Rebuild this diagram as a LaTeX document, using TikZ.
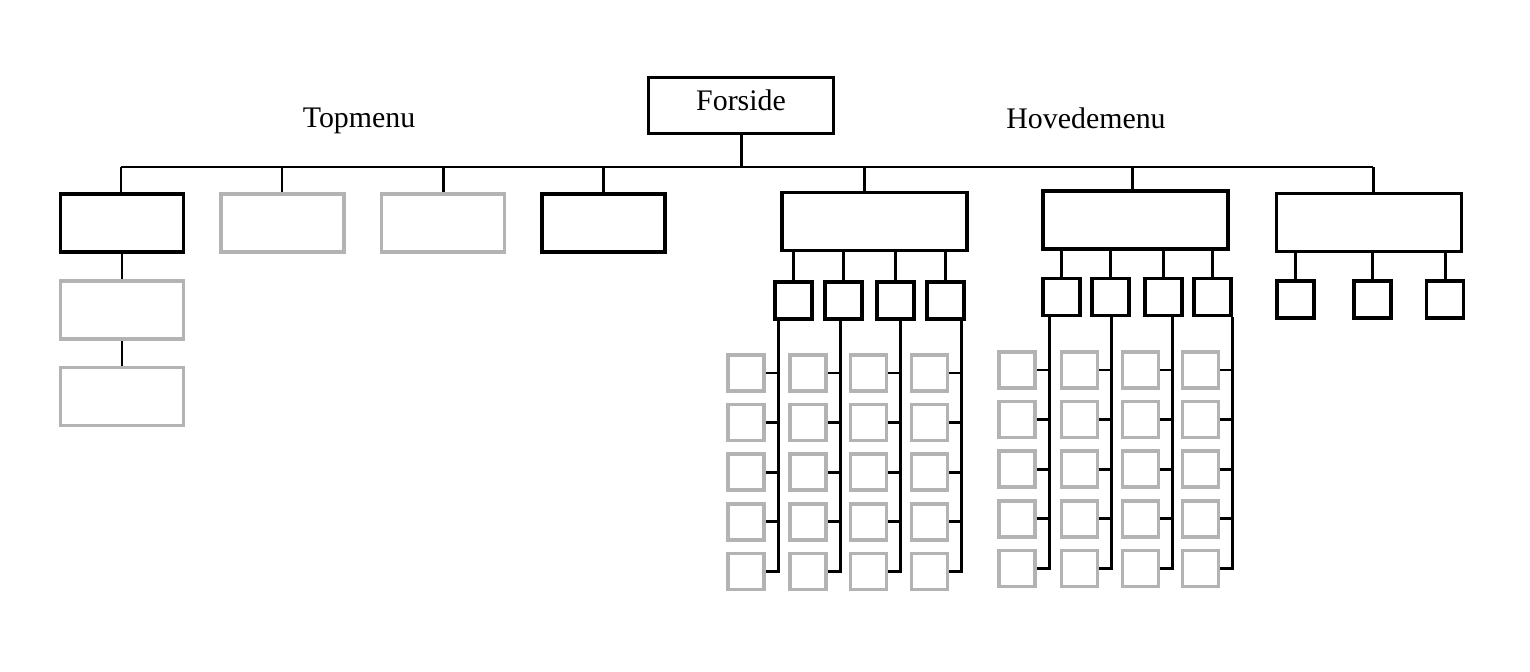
\documentclass[tikz,border=0pt]{standalone}
\usepackage{fontspec}
\setmainfont{Liberation Serif}
\usetikzlibrary{positioning}
\definecolor{boxgrey}{HTML}{B3B3B3}

\begin{document}
\begin{tikzpicture}[
    x=0.02cm, y=-0.02cm,
    page/.style={draw, line width=2pt, minimum width=2.46cm, minimum height=1.16cm, inner sep=0pt},
    widepage/.style={page, minimum width=3.7cm},
    greypage/.style={page, draw=boxgrey},
    subpage/.style={draw, line width=2pt, minimum size=0.74cm, inner sep=0pt},
    greysub/.style={subpage, draw=boxgrey, minimum size=0.72cm},
    link/.style={line width=1.7pt},
    title/.style={font=\fontsize{17}{20}\selectfont},
    every node/.style={align=center}
  ]
  \useasboundingbox (0,0) rectangle (1530,672);

  % Front page and menu titles
  \node[widepage, minimum height=1.12cm, title, text depth=6pt] (home) at (741,105.5) {Forside};
  \node[title] (topmenu) at (359,121) {Topmenu};
  \node[title] (mainmenu) at (1086,118) {Hovedemenu};

  % First level
  \node[page] (t1) at (122,223) {};
  \node[greypage] (t2) at (282.5,223) {};
  \node[greypage] (t3) at (443,223) {};
  \node[page] (t4) at (603.5,223) {};
  \node[widepage] (t5) at (874.5,221.5) {};
  \node[widepage] (t6) at (1135.5,220) {};
  \node[widepage] (t7) at (1369,222.5) {};

  % Bus from the front page
  \coordinate (bus) at (0,167);
  \draw[link] (home.south) -- (home.south |- bus);
  \foreach \i/\x in {1/121, 2/282, 3/443, 4/603, 5/864, 6/1132, 7/1373} {
    \coordinate (st\i) at (\x,0);
    \draw[link] (st\i |- t\i.north) -- (st\i |- bus);
  }
  \draw[link] (st1 |- bus) -- (st7 |- bus);

  % Topmenu pages
  \node[greypage] (t1a) at (122,310) {};
  \node[greypage] (t1b) at (122,396.5) {};
  \draw[link] (t1) -- (t1a);
  \draw[link] (t1a) -- (t1b);

  % Hovedemenu, first section
  \foreach \j/\x/\g/\l in {1/793.5/746/778, 2/843.5/808/840, 3/895.5/868.5/900, 4/945.5/929.5/961} {
    \node[subpage] (a\j) at (\x,300.5) {};
    \draw[link] (a\j.north |- t5.south) -- (a\j.north);
    \foreach \k in {1,...,5}
      \node[greysub] (a\j-\k) at (\g,{373+49.6*(\k-1)}) {};
    \coordinate (al\j) at (\l,0);
    \draw[link] (al\j |- a\j.south) -- (al\j |- a\j-5.east) -- (a\j-5.east);
    \foreach \k in {1,...,4}
      \draw[link] (a\j-\k.east) -- (a\j-\k.east -| al\j);
  }

  % Hovedemenu, second section
  \foreach \j/\x/\g/\l in {1/1061.5/1017/1049, 2/1110.5/1079.5/1111, 3/1163.5/1140.5/1172, 4/1212.5/1200.5/1232} {
    \node[subpage] (b\j) at (\x,297) {};
    \draw[link] (b\j.north |- t6.south) -- (b\j.north);
    \foreach \k in {1,...,5}
      \node[greysub] (b\j-\k) at (\g,{370+49.6*(\k-1)}) {};
    \coordinate (bl\j) at (\l,0);
    \draw[link] (bl\j |- b\j.south) -- (bl\j |- b\j-5.east) -- (b\j-5.east);
    \foreach \k in {1,...,4}
      \draw[link] (b\j-\k.east) -- (b\j-\k.east -| bl\j);
  }

  % Hovedemenu, third section
  \foreach \j/\x in {1/1295.5, 2/1372.5, 3/1445} {
    \node[subpage] (c\j) at (\x,299.5) {};
    \draw[link] (c\j.north |- t7.south) -- (c\j.north);
  }
\end{tikzpicture}
\end{document}
